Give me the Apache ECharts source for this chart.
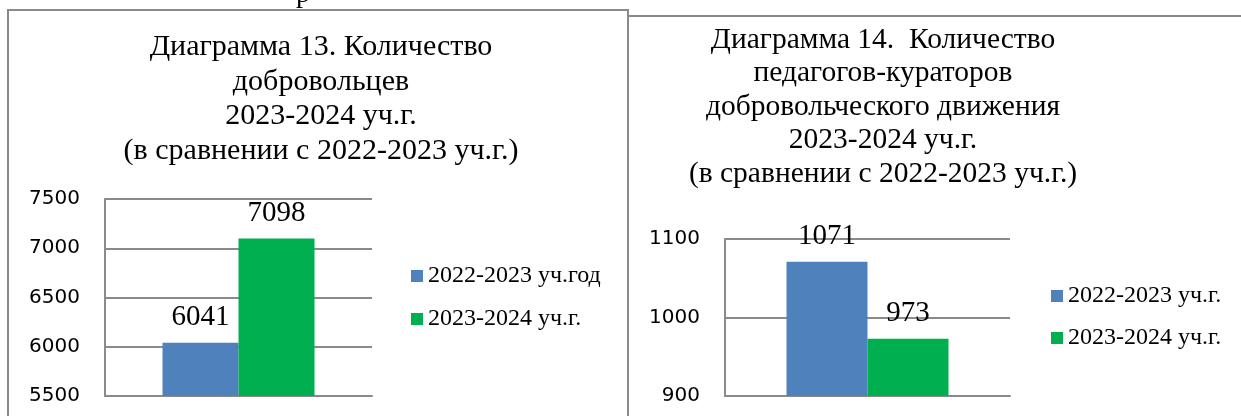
<!DOCTYPE html>
<html>
<head>
<meta charset="utf-8">
<script src="https://cdn.jsdelivr.net/npm/echarts@6/dist/echarts.min.js"></script>
<style>
html,body{margin:0;padding:0;background:#fff;}
#c{width:1241px;height:416px;}
</style>
</head>
<body>
<div id="c"></div>
<script>
// Chart 13 data
const title13 = 'Диаграмма 13. Количество\nдобровольцев\n2023-2024 уч.г.\n(в сравнении с 2022-2023 уч.г.)';
const categories13 = [''];
const seriesNames13 = ['2022-2023 уч.год', '2023-2024 уч.г.'];
const values13a = [6041];
const values13b = [7098];
const yTicks13 = {min: 5500, max: 7500, interval: 500};

// Chart 14 data
const title14 = 'Диаграмма 14.  Количество\nпедагогов-кураторов\nдобровольческого движения\n2023-2024 уч.г.\n(в сравнении с 2022-2023 уч.г.)';
const categories14 = [''];
const seriesNames14 = ['2022-2023 уч.г.', '2023-2024 уч.г. '];
const values14a = [1071];
const values14b = [973];
const yTicks14 = {min: 900, max: 1100, interval: 100};

const BLUE = '#4f81bd', GREEN = '#00b050', GRAY = '#8a8a8a';
const SERIF = '"Liberation Serif","Times New Roman",serif';
const SANS = '"DejaVu Sans",sans-serif';

const chart = echarts.init(document.getElementById('c'), null, {renderer: 'canvas'});

function yAxis(idx, t) {
  return {
    type: 'value', gridIndex: idx, min: t.min, max: t.max, interval: t.interval,
    axisLine: {show: true, lineStyle: {color: GRAY, width: 2}},
    axisTick: {show: false},
    axisLabel: {color: '#000', fontFamily: SANS, fontSize: 20, margin: 25, formatter: function (v) { return String(v); }},
    splitLine: {show: true, lineStyle: {color: GRAY, width: 2}}
  };
}
function xAxis(idx, cats) {
  return {
    type: 'category', gridIndex: idx, data: cats,
    axisLine: {show: true, lineStyle: {color: GRAY, width: 2}},
    axisTick: {show: false}, axisLabel: {show: false}
  };
}
function bar(name, data, color, idx, w) {
  return {
    name: name, type: 'bar', xAxisIndex: idx, yAxisIndex: idx, data: data,
    barWidth: w, barGap: '0%',
    itemStyle: {color: color},
    label: {show: true, position: 'top', distance: 11, color: '#000', fontFamily: SERIF, fontSize: 29},
    animation: false
  };
}

chart.setOption({
  animation: false,
  title: [
    {text: title13, left: 321, top: 30, textAlign: 'center', padding: 0,
     textStyle: {fontFamily: SERIF, fontSize: 30, fontWeight: 'normal', color: '#000', lineHeight: 34.5}},
    {text: title14, left: 883, top: 23, textAlign: 'center', padding: 0,
     textStyle: {fontFamily: SERIF, fontSize: 29.5, fontWeight: 'normal', color: '#000', lineHeight: 33.5}}
  ],
  grid: [
    {left: 105, right: 1241 - 372, top: 199, bottom: 20},
    {left: 725, right: 1241 - 1010, top: 239, bottom: 20}
  ],
  xAxis: [xAxis(0, categories13), xAxis(1, categories14)],
  yAxis: [yAxis(0, yTicks13), yAxis(1, yTicks14)],
  legend: [
    {data: seriesNames13, orient: 'vertical', left: 411, top: 264, padding: 0, itemWidth: 12, itemHeight: 12, itemGap: 19,
     icon: 'rect', selectedMode: false,
     textStyle: {fontFamily: SERIF, fontSize: 24, color: '#000', lineHeight: 24}},
    {data: seriesNames14, orient: 'vertical', left: 1051, top: 284, padding: 0, itemWidth: 12, itemHeight: 12, itemGap: 18,
     icon: 'rect', selectedMode: false,
     textStyle: {fontFamily: SERIF, fontSize: 24, color: '#000', lineHeight: 24}}
  ],
  series: [
    bar(seriesNames13[0], values13a, BLUE, 0, 76),
    bar(seriesNames13[1], values13b, GREEN, 0, 76),
    bar(seriesNames14[0], values14a, BLUE, 1, 81),
    bar(seriesNames14[1], values14b, GREEN, 1, 81)
  ],
  graphic: [
    {type: 'polyline', shape: {points: [[8, 420], [8, 10], [628, 10], [628, 420]]},
     style: {stroke: GRAY, lineWidth: 2, fill: null}, silent: true},
    {type: 'line', shape: {x1: 628, y1: 16, x2: 1245, y2: 16},
     style: {stroke: GRAY, lineWidth: 2}, silent: true},
    {type: 'text', left: 296, top: -19,
     style: {text: 'р', font: '28px ' + SERIF, fill: '#000'}, silent: true}
  ]
});
</script>
</body>
</html>
